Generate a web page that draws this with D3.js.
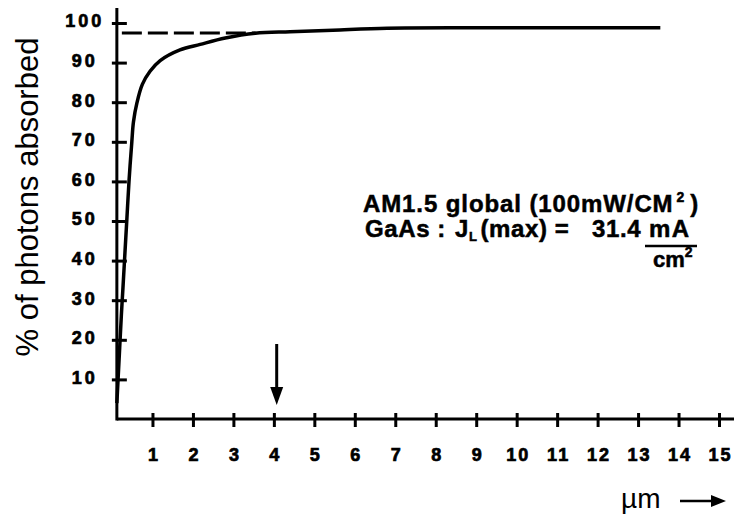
<!DOCTYPE html>
<html>
<head>
<meta charset="utf-8">
<script src="https://cdn.jsdelivr.net/npm/d3@7"></script>
<style>
  html, body { margin: 0; padding: 0; background: #fff; }
  svg { display: block; }
  .tick text { font-family: "Liberation Sans", Arial, sans-serif; font-weight: bold; font-size: 18px; fill: #000; stroke: #000; stroke-width: 0.7px; }
</style>
</head>
<body>
<svg id="chart" width="734" height="518"></svg>
<script>
// Absorbed fraction of AM1.5 photons versus GaAs thickness
const thicknessUm = [0.12, 0.15, 0.19, 0.23, 0.27, 0.32, 0.37, 0.42, 0.49, 0.53, 0.62, 0.75, 0.94, 1.19, 1.68, 2.18, 2.8, 3.54, 4.4, 5.46, 6.8, 9, 11, 13.55];
const absorbedPct = [4, 10, 18, 26, 33, 42, 51, 60, 70, 75, 80, 84.5, 87.8, 90.5, 93.2, 94.6, 96.2, 97.4, 97.8, 98.2, 98.7, 98.8, 98.8, 98.8];

const xTickValues = [1, 2, 3, 4, 5, 6, 7, 8, 9, 10, 11, 12, 13, 14, 15];
const yTickValues = [10, 20, 30, 40, 50, 60, 70, 80, 90, 100];

const dashedLevel = 97.5;      // asymptote drawn as a dashed guide
const dashedUntil = 3.55;      // µm where the guide meets the curve
const markerAt = 4.07;         // µm, thickness pointed to by the arrow
const axisOrigin = 0.12;       // µm, where the vertical axis sits

const svg = d3.select("#chart");
const x = d3.scaleLinear().domain([0, 15]).range([112, 719]);
const y = d3.scaleLinear().domain([0, 100]).range([419, 23]);

const x0 = x(axisOrigin);
const yBase = y(0);

// Axis lines
svg.append("line")
  .attr("x1", x0).attr("x2", 734).attr("y1", yBase).attr("y2", yBase)
  .attr("stroke", "#000").attr("stroke-width", 3);
svg.append("line")
  .attr("x1", x0).attr("x2", x0).attr("y1", yBase + 1.5).attr("y2", 8)
  .attr("stroke", "#000").attr("stroke-width", 3);

// Bottom axis with crossing ticks
const gx = svg.append("g")
  .attr("transform", `translate(0,${yBase})`)
  .call(d3.axisBottom(x).tickValues(xTickValues).tickFormat(d3.format("d")));
gx.select(".domain").remove();
gx.selectAll(".tick line")
  .attr("y1", -6).attr("y2", 8)
  .attr("stroke", "#000").attr("stroke-width", 3);
gx.selectAll(".tick text")
  .attr("y", 42).attr("dy", 0).attr("dx", 1)
  .style("letter-spacing", "2px");

// Left axis with crossing ticks
const gy = svg.append("g")
  .attr("transform", `translate(${x0},0)`)
  .call(d3.axisLeft(y).tickValues(yTickValues).tickFormat(d3.format("d")));
gy.select(".domain").remove();
gy.selectAll(".tick line")
  .attr("x1", -5).attr("x2", 10)
  .attr("stroke", "#000").attr("stroke-width", 3);
gy.selectAll(".tick text")
  .attr("x", -32).attr("dy", "0.22em")
  .attr("text-anchor", "middle")
  .style("letter-spacing", "3px");

// Dashed asymptote
svg.append("line")
  .attr("x1", x0 + 5).attr("x2", x(dashedUntil))
  .attr("y1", y(dashedLevel)).attr("y2", y(dashedLevel))
  .attr("stroke", "#000").attr("stroke-width", 3)
  .attr("stroke-dasharray", "20,6");

// Absorption curve
const line = d3.line()
  .x((d, i) => x(thicknessUm[i]))
  .y(d => y(d))
  .curve(d3.curveCatmullRom.alpha(0.5));
svg.append("path")
  .attr("d", line(absorbedPct))
  .attr("fill", "none").attr("stroke", "#000")
  .attr("stroke-width", 3.5).attr("stroke-linejoin", "round");

// Down arrow at the marked thickness
const ax = x(markerAt);
svg.append("line")
  .attr("x1", ax).attr("x2", ax).attr("y1", 344).attr("y2", 392)
  .attr("stroke", "#000").attr("stroke-width", 3);
svg.append("path")
  .attr("d", `M${ax - 6.5},387 L${ax + 6.5},387 L${ax},405 Z`)
  .attr("fill", "#000");

// Axis titles
svg.append("text")
  .attr("transform", "translate(38,197) rotate(-90)")
  .attr("text-anchor", "middle")
  .style("font-family", "'Liberation Sans', Arial, sans-serif")
  .style("font-size", "31px")
  .text("% of photons absorbed");

svg.append("text")
  .attr("x", 621).attr("y", 508)
  .style("font-family", "'Liberation Sans', Arial, sans-serif")
  .style("font-size", "28px")
  .text("µm");
svg.append("line")
  .attr("x1", 680).attr("x2", 715).attr("y1", 501).attr("y2", 501)
  .attr("stroke", "#000").attr("stroke-width", 2.5);
svg.append("path")
  .attr("d", "M711,495 L726,501 L711,507 Z")
  .attr("fill", "#000");

// Annotation
const noteFont = "'Liberation Sans', Arial, sans-serif";
const note = svg.append("g")
  .style("font-family", noteFont)
  .style("font-weight", "bold")
  .attr("fill", "#000")
  .attr("stroke", "#000")
  .attr("stroke-width", 0.5);

const l1 = note.append("text").attr("x", 363).attr("y", 212)
  .style("font-size", "24px").style("letter-spacing", "0.9px");
l1.append("tspan").text("AM1.5 global (100mW/CM");
l1.append("tspan").attr("dx", 3).attr("dy", -10).style("font-size", "14px").text("2");
l1.append("tspan").attr("dx", 5).attr("dy", 10).text(")");

const l2 = note.append("text").attr("x", 365).attr("y", 237)
  .style("font-size", "24px").style("letter-spacing", "0.6px");
l2.append("tspan").text("GaAs :");
l2.append("tspan").attr("x", 455).text("J");
l2.append("tspan").attr("dy", 4).style("font-size", "13px").text("L");
l2.append("tspan").attr("dx", 3).attr("dy", -4).text("(max) =");
l2.append("tspan").attr("x", 592).text("31.4");
l2.append("tspan").attr("x", 649).style("letter-spacing", "1.5px").text("mA");

note.append("line")
  .attr("x1", 645).attr("x2", 697).attr("y1", 246).attr("y2", 246)
  .attr("stroke-width", 2.5);

const l3 = note.append("text").attr("x", 653).attr("y", 267)
  .style("font-size", "22px");
l3.append("tspan").text("cm");
l3.append("tspan").attr("dy", -10).style("font-size", "14px").text("2");
</script>
</body>
</html>
